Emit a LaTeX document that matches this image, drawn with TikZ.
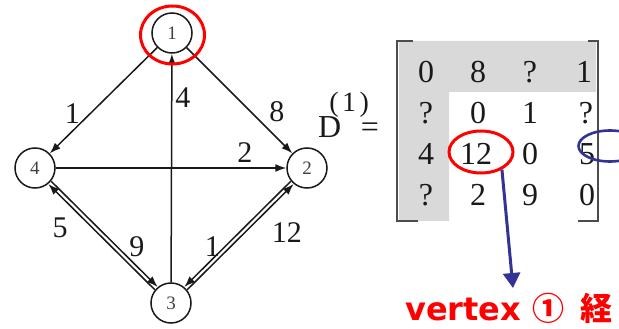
\documentclass[tikz,border=0pt]{standalone}
\usepackage{fontspec}
\setmainfont{Liberation Serif}
\newfontfamily\notefont{DejaVu Sans}
\newfontfamily\cjkfont{Noto Sans CJK JP}
\usetikzlibrary{arrows.meta, shapes.geometric}
\definecolor{markred}{RGB}{255,0,0}
\definecolor{markblue}{RGB}{51,51,150}

\begin{document}
\begin{tikzpicture}[
    x=1pt, y=-1pt,
    vertex/.style={circle, draw=black!90, line width=1.5pt, minimum size=40pt, inner sep=0pt, text=black!75, font=\fontsize{19}{19}\selectfont},
    weight/.style={inner sep=0pt, font=\fontsize{30}{30}\selectfont, text=black!90},
    arrow/.style={-{Latex[length=11pt, width=8pt]}, line width=1.5pt, draw=black!90},
    entry/.style={anchor=base, inner sep=0pt, font=\fontsize{32}{32}\selectfont, text=black!90},
    bracket/.style={line width=2.8pt, draw=black!70},
    shade/.style={fill=black!15},
    ring/.style={ellipse, draw, line width=3pt, inner sep=0pt},
    pointer/.style={-{Triangle[length=15pt, width=17pt]}, line width=3pt, draw=markblue}
]
\useasboundingbox (0,0) rectangle (619,329);

% graph
\node[vertex] (v1) at (172,33) {1};
\node[vertex] (v2) at (307,168) {2};
\node[vertex] (v3) at (171,303) {3};
\node[vertex] (v4) at (35,168) {4};

\draw[arrow] (v1) -- node[weight, pos=.705, xshift=-9pt, yshift=9pt] {1} (v4);
\draw[arrow] (v1) -- node[weight, pos=.73, xshift=13pt, yshift=13pt] {8} (v2);
\draw[arrow] (v3) -- node[weight, pos=.81, xshift=11pt] {4} (v1);
\draw[arrow] (v4) -- node[weight, pos=.82, yshift=15pt] {2} (v2);
\draw[arrow, transform canvas={shift={(1.4pt,1.4pt)}}] (v4) -- node[weight, pos=.71, xshift=10pt, yshift=10pt] {9} (v3);
\draw[arrow, transform canvas={shift={(-1.4pt,-1.4pt)}}] (v3) -- node[weight, pos=.74, xshift=-16pt, yshift=-16pt] {5} (v4);
\draw[arrow, transform canvas={shift={(-1.4pt,1.4pt)}}] (v2) -- node[weight, pos=.675, xshift=-6.5pt, yshift=6.5pt] {1} (v3);
\draw[arrow, transform canvas={shift={(1.4pt,-1.4pt)}}] (v3) -- node[weight, pos=.74, xshift=21pt, yshift=-21pt] {12} (v2);

% matrix D(1)
\node[anchor=base west, inner sep=0pt, font=\fontsize{32}{32}\selectfont, text=black!90] (dlabel) at (318,138)
    {D\kern-12pt\raisebox{26pt}{\fontsize{28}{28}\selectfont(\kern3.5pt1\kern3.5pt)}\kern-8pt=};
\fill[shade] (399,41) -- (596,41) -- (596,92) -- (449,92) -- (449,221) -- (399,221) -- cycle;
\draw[bracket] (413,41) -- (397,41) -- (397,221) -- (418,221);
\draw[bracket] (588,41) -- (598,41) -- (598,221) -- (578,221);

\node[entry] (d11) at (426,82) {0};
\node[entry] (d12) at (478,82) {8};
\node[entry] (d13) at (530,82) {?};
\node[entry] (d14) at (584,82) {1};
\node[entry] (d21) at (426,123) {?};
\node[entry] (d22) at (478,123) {0};
\node[entry] (d23) at (530,123) {1};
\node[entry] (d24) at (586,123) {?};
\node[entry] (d31) at (426,164) {4};
\node[entry] (d32) at (476,164) {12};
\node[entry] (d33) at (530,164) {0};
\node[entry] (d34) at (587,164) {5};
\node[entry] (d41) at (426,205) {?};
\node[entry] (d42) at (478,205) {2};
\node[entry] (d43) at (530,205) {9};
\node[entry] (d44) at (587,205) {0};

% marks
\node[ring, draw=markred, minimum width=64pt, minimum height=58pt] (ring1) at (172.5,35) {};
\node[ring, draw=markred, minimum width=64pt, minimum height=42pt] (ring12) at (481,152) {};
\node[ring, draw=markblue, line width=2.6pt, minimum width=63pt, minimum height=31pt] (ring5) at (610,146) {};

\node[anchor=base west, inner sep=0pt, text=markred, font=\notefont\bfseries\fontsize{32}{32}\selectfont] (note) at (405,320)
    {vertex {\cjkfont ①}\hspace{16pt}{\cjkfont 経}};
\coordinate (tip) at (513,288);
\draw[pointer] (ring12.-40) -- (tip);

\end{tikzpicture}
\end{document}
